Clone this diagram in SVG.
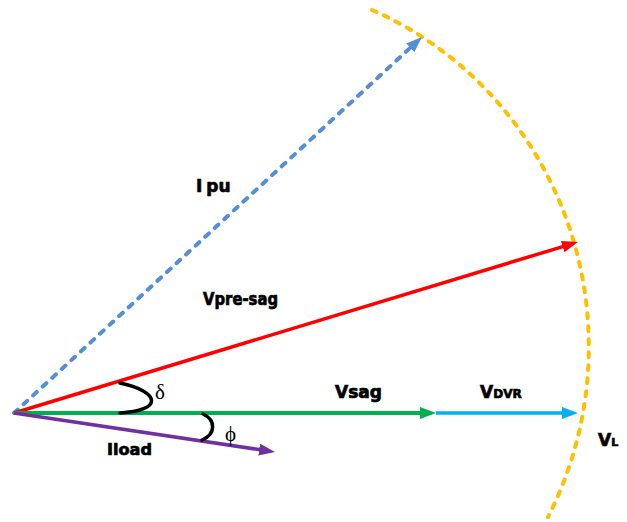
<svg xmlns="http://www.w3.org/2000/svg" width="627" height="522" viewBox="0 0 627 522">
<style>
.lbl{font-family:"DejaVu Sans","Liberation Sans",sans-serif;font-weight:bold;fill:#000;stroke:#000;stroke-width:0.7}
.sym{font-family:"Liberation Serif","DejaVu Serif",serif;fill:#000;font-size:21px}
.ang{fill:none;stroke:#000;stroke-width:3.5;stroke-linecap:round}
</style>
<defs>
<marker id="ah-red" markerUnits="userSpaceOnUse" markerWidth="18" markerHeight="14" refX="8" refY="6" orient="auto"><path d="M0,0 L16,6 L0,12 z" fill="#FF0000"/></marker>
<marker id="ah-blue" markerUnits="userSpaceOnUse" markerWidth="18" markerHeight="14" refX="8" refY="6" orient="auto"><path d="M0,0 L16,6 L0,12 z" fill="#558ED5"/></marker>
<marker id="ah-green" markerUnits="userSpaceOnUse" markerWidth="18" markerHeight="14" refX="8" refY="6" orient="auto"><path d="M0,0 L16,6 L0,12 z" fill="#00B050"/></marker>
<marker id="ah-cyan" markerUnits="userSpaceOnUse" markerWidth="18" markerHeight="14" refX="8" refY="6" orient="auto"><path d="M0,0 L16,6 L0,12 z" fill="#00B0F0"/></marker>
<marker id="ah-purple" markerUnits="userSpaceOnUse" markerWidth="18" markerHeight="14" refX="8" refY="6" orient="auto"><path d="M0,0 L16,6 L0,12 z" fill="#7030A0"/></marker>
</defs>
<rect width="627" height="522" fill="#fff"/>
<g id="circle">
<path d="M372,10 A356 366 0 0 1 548,517" fill="none" stroke="#FFC000" stroke-width="4" stroke-dasharray="5 8" stroke-linecap="round"/>
</g>
<g id="connectors">
<line x1="14" y1="413" x2="416.1" y2="42.4" stroke="#558ED5" stroke-width="4" stroke-dasharray="5 8" stroke-linecap="round" marker-end="url(#ah-blue)"/>
<line x1="14" y1="413" x2="570.3" y2="244.3" stroke="#FF0000" stroke-width="3.5" marker-end="url(#ah-red)"/>
<line x1="14" y1="413" x2="428" y2="413" stroke="#00B050" stroke-width="4" marker-end="url(#ah-green)"/>
<line x1="436" y1="413" x2="570" y2="413" stroke="#00B0F0" stroke-width="3.5" marker-end="url(#ah-cyan)"/>
<line x1="14" y1="413" x2="267.1" y2="450.8" stroke="#7030A0" stroke-width="3.5" marker-end="url(#ah-purple)"/>
</g>
<g id="angle-delta">
<path class="ang" d="M120,383 C162,392 162,411 120,413"/>
<text class="sym" x="155" y="399">δ</text>
</g>
<g id="angle-phi">
<path class="ang" d="M203,414 C216,420 216,434 202,440"/>
<text class="sym" x="225" y="441">ϕ</text>
</g>
<g id="label-ipu"><text class="lbl" x="196" y="192" font-size="17">I<tspan dx="4">pu</tspan></text></g>
<g id="label-vpresag"><text class="lbl" x="203" y="305" font-size="17" textLength="75" lengthAdjust="spacingAndGlyphs">Vpre-sag</text></g>
<g id="label-iload"><text class="lbl" x="107" y="455" font-size="16" textLength="45" lengthAdjust="spacingAndGlyphs">Iload</text></g>
<g id="label-vsag"><text class="lbl" x="335" y="398" font-size="17" textLength="47" lengthAdjust="spacingAndGlyphs">Vsag</text></g>
<g id="label-vdvr"><text class="lbl" x="480" y="398" font-size="17">V<tspan font-size="12">DVR</tspan></text></g>
<g id="label-vl"><text class="lbl" x="598" y="446" font-size="17">V<tspan font-size="11">L</tspan></text></g>
</svg>
